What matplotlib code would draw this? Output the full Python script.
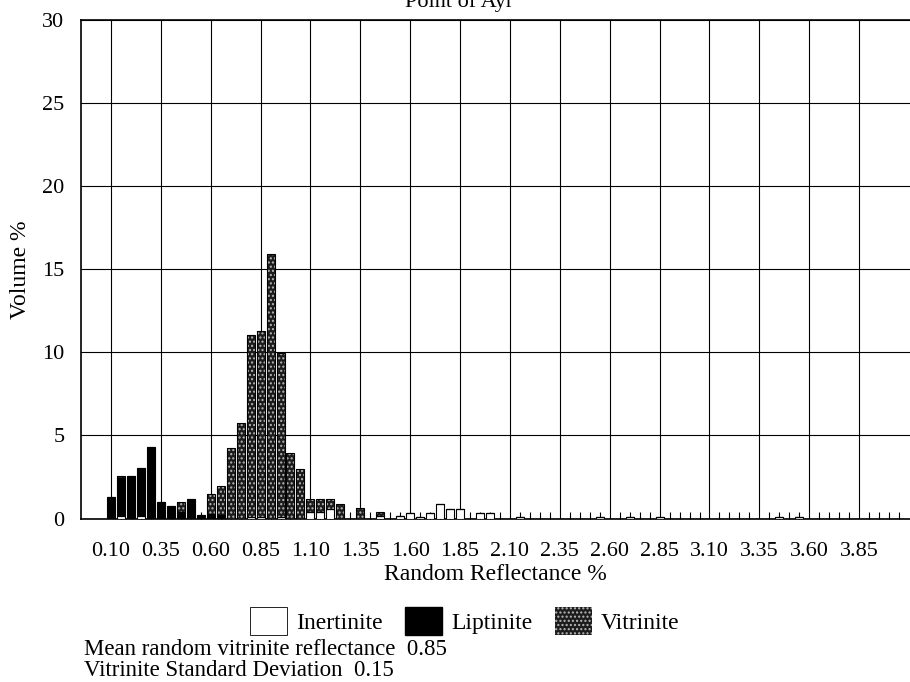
import numpy as np
import matplotlib
matplotlib.use("Agg")
import matplotlib.pyplot as plt
from matplotlib.patches import Patch

plt.rcParams['font.family'] = ['Liberation Serif', 'DejaVu Serif']
plt.rcParams['hatch.color'] = '#b8b8b8'
plt.rcParams['hatch.linewidth'] = 1.0

# reflectance bins (category axis), step 0.05
bins = np.round(np.arange(0.10, 4.10, 0.05), 2)
tick_labels = ['0.10', '0.35', '0.60', '0.85', '1.10', '1.35', '1.60', '1.85',
               '2.10', '2.35', '2.60', '2.85', '3.10', '3.35', '3.60', '3.85']

# (reflectance, volume %)
inert_r = [0.15, 0.25, 0.80, 0.85, 0.95, 1.10, 1.15, 1.20, 1.45, 1.55, 1.60, 1.65,
           1.70, 1.75, 1.80, 1.85, 1.95, 2.00, 2.15, 2.55, 2.70, 2.85, 3.45, 3.55]
inert_v = [0.15, 0.15, 0.12, 0.12, 0.12, 0.40, 0.40, 0.60, 0.15, 0.15, 0.35, 0.12,
           0.35, 0.85, 0.57, 0.57, 0.33, 0.33, 0.10, 0.12, 0.12, 0.12, 0.12, 0.12]

lipt_r = [0.10, 0.15, 0.20, 0.25, 0.30, 0.35, 0.40, 0.45, 0.50, 0.55, 0.60, 0.65]
lipt_v = [1.28, 2.30, 2.53, 2.90, 4.28, 1.02, 0.74, 0.40, 1.20, 0.21, 0.25, 0.20]

vit_r = [0.15, 0.45, 0.60, 0.65, 0.70, 0.75, 0.80, 0.85, 0.90, 0.95, 1.00, 1.05,
         1.10, 1.15, 1.20, 1.25, 1.35, 1.45]
vit_v = [0.10, 0.58, 1.23, 1.76, 4.24, 5.75, 10.9, 11.17, 15.9, 9.86, 3.94, 2.97,
         0.76, 0.76, 0.56, 0.86, 0.62, 0.22]


def dense(r, v):
    out = np.zeros(len(bins))
    for a, b in zip(r, v):
        out[np.argmin(np.abs(bins - a))] = b
    return out


inert = dense(inert_r, inert_v)
lipt = dense(lipt_r, lipt_v)
vit = dense(vit_r, vit_v)

fig = plt.figure(figsize=(9.1, 6.82), dpi=100)
ax = fig.add_axes([0.089, 0.2397, 0.911, 0.731])

w = 0.04
ax.bar(bins, inert, w, color='white', edgecolor='black', linewidth=0.8, zorder=3)
ax.bar(bins, lipt, w, bottom=inert, color='black', edgecolor='black', linewidth=0.8, zorder=3)
ax.bar(bins, vit, w, bottom=inert + lipt, color='#1c1c1c', hatch='....', linewidth=0, zorder=3)
ax.bar(bins, vit, w, bottom=inert + lipt, fill=False, edgecolor='black', linewidth=0.8, zorder=4)

ax.set_xlim(-0.05, 4.105)
ax.set_ylim(0, 30)
ax.set_xticks(np.arange(0.10, 4.0, 0.25))
ax.set_xticklabels(tick_labels)
ax.set_xticks(bins, minor=True)
ax.set_yticks([0, 5, 10, 15, 20, 25, 30])
ax.grid(True, which='major', color='black', linewidth=0.8)
ax.set_axisbelow(True)
ax.tick_params(axis='x', which='major', length=0, pad=17, labelsize=16)
ax.tick_params(axis='x', which='minor', direction='in', length=5, width=0.8)
ax.tick_params(axis='y', length=0, pad=12, labelsize=16)
ax.spines['right'].set_visible(False)
for s in ['left', 'top', 'bottom']:
    ax.spines[s].set_linewidth(1.2)

ax.set_xlabel('Random Reflectance %', fontsize=17, labelpad=2)
ax.set_ylabel('Volume %', fontsize=17, labelpad=8)

fig.text(0.504, 1 - 7 / 682, 'Point of Ayr', ha='center', va='baseline', fontsize=16)

handles = [Patch(facecolor='white', edgecolor='black', linewidth=0.6),
           Patch(facecolor='black', edgecolor='black'),
           Patch(facecolor='#1c1c1c', hatch='....', linewidth=0)]
fig.legend(handles, ['Inertinite', 'Liptinite', 'Vitrinite'], loc='center',
           bbox_to_anchor=(0.511, 1 - 621 / 682), ncol=3, frameon=False, fontsize=17,
           handlelength=1.55, handleheight=1.4, handletextpad=0.4, columnspacing=0.95)

fig.text(0.092, 1 - 655 / 682, 'Mean random vitrinite reflectance  0.85', va='baseline', fontsize=16.5)
fig.text(0.092, 1 - 676 / 682, 'Vitrinite Standard Deviation  0.15', va='baseline', fontsize=16.5)

fig.savefig('out.png', dpi=100)
